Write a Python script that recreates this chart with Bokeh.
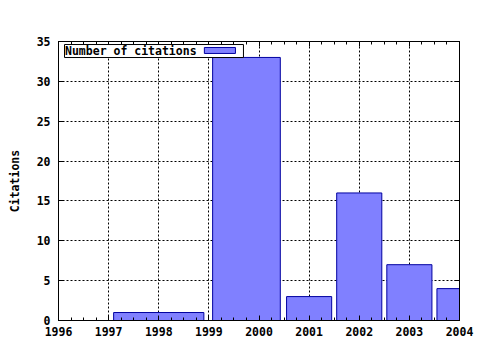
from bokeh.plotting import figure
from bokeh.models import (Range1d, FixedTicker, SingleIntervalTicker, LinearAxis,
                          BoxAnnotation, Label, CustomJSTickFormatter)
from bokeh.embed import file_html
from bokeh.resources import INLINE

years = [1998, 2000, 2001, 2002, 2003, 2004]
citations = [1, 33, 3, 16, 7, 4]
x_ticks = [1996, 1997, 1998, 1999, 2000, 2001, 2002, 2003, 2004]
y_ticks = [0, 5, 10, 15, 20, 25, 30, 35]
legend_label = "Number of citations"
y_label = "Citations"

FONT = "DejaVu Sans Mono"
FS = "11.5px"
FILL = "#8080ff"
EDGE = "#0000a0"

# gnuplot-style boxes: each box extends half way to its neighbours, scaled by 0.9
lefts, rights = [], []
n = len(years)
for i, x in enumerate(years):
    if n == 1:
        lh = rh = 0.5
    elif i == 0:
        lh = rh = (years[1] - x) / 2
    elif i == n - 1:
        lh = rh = (x - years[i - 1]) / 2
    else:
        lh = (x - years[i - 1]) / 2
        rh = (years[i + 1] - x) / 2
    l, r = x - lh, x + rh
    c, w = (l + r) / 2, (r - l) * 0.9
    lefts.append(c - w / 2)
    rights.append(c + w / 2)

p = figure(width=480, height=350, output_backend="svg", toolbar_location=None,
           x_range=Range1d(x_ticks[0], x_ticks[-1]), y_range=Range1d(y_ticks[0], y_ticks[-1]),
           min_border_left=58, min_border_right=21, min_border_top=41, min_border_bottom=30,
           x_axis_location=None, y_axis_location=None)
p.background_fill_color = "white"
p.border_fill_color = "white"
p.outline_line_color = "black"
p.outline_line_width = 1

xt = SingleIntervalTicker(interval=1, num_minor_ticks=4)
yt = FixedTicker(ticks=y_ticks)

def style(ax, labels=True):
    ax.axis_line_color = "black"
    ax.major_tick_in = 5
    ax.major_tick_out = 0
    ax.minor_tick_in = 3
    ax.minor_tick_out = 0
    ax.major_tick_line_color = "black"
    ax.minor_tick_line_color = "black"
    ax.major_label_text_font = FONT
    ax.major_label_text_font_style = "bold"
    ax.major_label_text_font_size = FS
    ax.major_label_text_color = "black"
    if not labels:
        ax.formatter = CustomJSTickFormatter(code="return ''")
        ax.major_label_standoff = 0

bottom = LinearAxis(ticker=xt)
style(bottom)
bottom.major_label_standoff = 6
top = LinearAxis(ticker=xt)
style(top, labels=False)
left = LinearAxis(ticker=yt, axis_label=y_label)
style(left)
left.minor_tick_line_color = None
left.major_label_standoff = 8
left.axis_label_text_font = FONT
left.axis_label_text_font_style = "bold"
left.axis_label_text_font_size = FS
left.axis_label_text_color = "black"
left.axis_label_standoff = 12
right = LinearAxis(ticker=yt)
style(right, labels=False)
right.minor_tick_line_color = None

p.add_layout(bottom, "below")
p.add_layout(top, "above")
p.add_layout(left, "left")
p.add_layout(right, "right")

p.xgrid.ticker = FixedTicker(ticks=x_ticks)
p.ygrid.ticker = yt
for g in (p.xgrid, p.ygrid):
    g.grid_line_color = "black"
    g.grid_line_dash = "2 2"
    g.grid_line_width = 1

p.quad(left=lefts, right=rights, bottom=0, top=citations,
       fill_color=FILL, line_color=EDGE, line_width=1)

# legend (label first, then sample box, as in gnuplot)
p.add_layout(BoxAnnotation(left=1996.12, right=1999.69, bottom=32.99, top=34.62,
                           fill_color="white", fill_alpha=1, line_color="black",
                           line_alpha=1, line_width=1))
p.add_layout(BoxAnnotation(left=1998.91, right=1999.53, bottom=33.5, top=34.25,
                           fill_color=FILL, fill_alpha=1, line_color=EDGE,
                           line_alpha=1, line_width=1))
p.add_layout(Label(x=1996.13, y=33.82, text=legend_label, text_font=FONT,
                   text_font_style="bold", text_font_size=FS, text_baseline="middle",
                   text_color="black"))

open("out.html", "w").write(file_html(p, INLINE))
